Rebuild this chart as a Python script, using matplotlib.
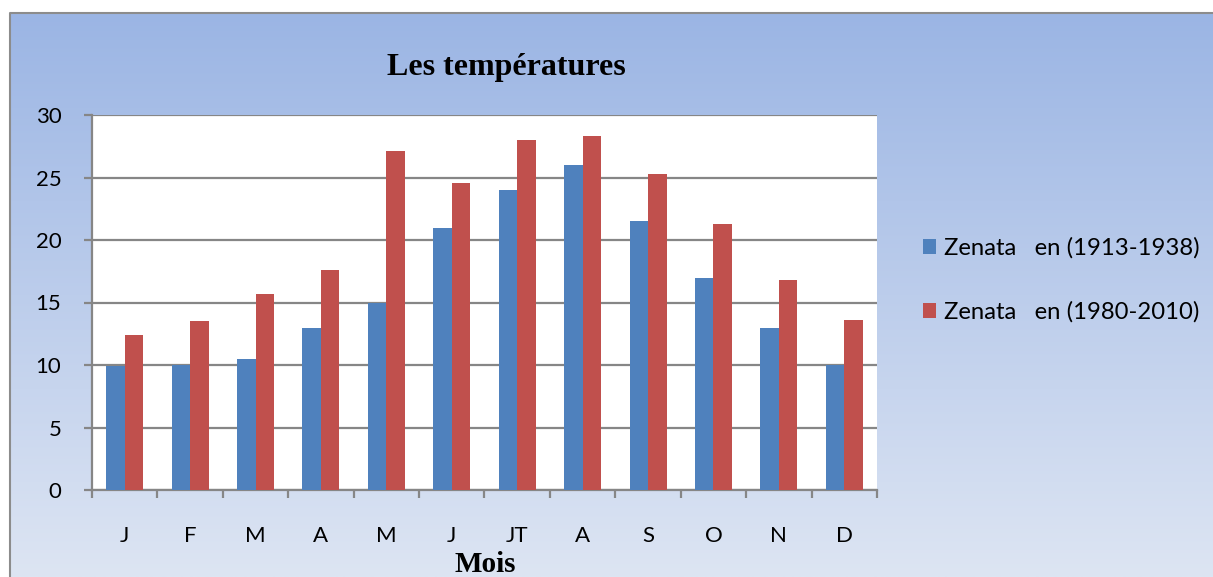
import numpy as np
import matplotlib
matplotlib.use("Agg")
import matplotlib.pyplot as plt
from matplotlib.lines import Line2D

months = ["J", "F", "M", "A", "M", "J", "JT", "A", "S", "O", "N", "D"]
zenata_1913_1938 = [9.9, 10.0, 10.5, 13.0, 15.0, 21.0, 24.0, 26.0, 21.5, 17.0, 13.0, 10.0]
zenata_1980_2010 = [12.4, 13.5, 15.7, 17.6, 27.1, 24.6, 28.0, 28.3, 25.3, 21.3, 16.8, 13.6]
series_labels = ["Zenata   en (1913-1938)", "Zenata   en (1980-2010)"]
yticks = [0, 5, 10, 15, 20, 25, 30]

W, H = 1213, 577
fig = plt.figure(figsize=(W / 100, H / 100), dpi=100)
fig.patch.set_facecolor("white")

# background gradient panel
bg = fig.add_axes([10 / W, 0, 1 - 10 / W, 1 - 13 / H])
bg.set_axis_off()
top = np.array([155, 181, 228]) / 255
bot = np.array([221, 229, 243]) / 255
t = np.linspace(0, 1, 256)[:, None]
grad = top[None, :] * (1 - t) + bot[None, :] * t
grad = np.repeat(grad[:, None, :], 2, axis=1)
bg.imshow(grad, aspect="auto", extent=[0, 1, 0, 1], origin="upper")
bg.set_xlim(0, 1)
bg.set_ylim(0, 1)
bg.add_line(Line2D([0, 0, 1], [0, 1, 1], color="#8c8c8c", lw=1.5,
                   transform=bg.transAxes, clip_on=False))

ax = fig.add_axes([92 / W, 1 - 490 / H, (877 - 92) / W, (490 - 115) / H])
ax.set_facecolor("white")
x = np.arange(len(months))
bw = 0.283
ax.bar(x - bw / 2, zenata_1913_1938, width=bw, color="#4F81BD", label=series_labels[0], zorder=3)
ax.bar(x + bw / 2, zenata_1980_2010, width=bw, color="#C0504D", label=series_labels[1], zorder=3)

ax.set_xlim(-0.5, len(months) - 0.5)
ax.set_ylim(0, 30)
ax.set_yticks(yticks)
ax.yaxis.grid(True, color="#868686", lw=1.6, zorder=1)
for s in ["top", "right"]:
    ax.spines[s].set_visible(False)
for s in ["left", "bottom"]:
    ax.spines[s].set_color("#868686")
    ax.spines[s].set_linewidth(1.6)

tick_font = "Lato"
ax.tick_params(axis="y", direction="out", length=6, width=1.6, color="#868686",
               labelsize=16, pad=16)
for lab in ax.get_yticklabels():
    lab.set_fontfamily(tick_font)
ax.set_xticks(x)
ax.set_xticklabels(months, fontsize=16, fontfamily=tick_font)
ax.tick_params(axis="x", length=0, pad=26)
ax.set_xticks(np.arange(-0.5, len(months), 1), minor=True)
ax.tick_params(axis="x", which="minor", direction="out", length=6, width=1.6, color="#868686")

fig.text(506 / W, 1 - 68 / H, "Les températures", ha="center", va="center",
         fontsize=23, fontweight="bold", fontfamily="Liberation Serif")
fig.text(485 / W, 1 - 564 / H, "Mois", ha="center", va="center",
         fontsize=21, fontweight="bold", fontfamily="Liberation Serif")

leg = fig.legend(loc="center left", bbox_to_anchor=(901 / W, 1 - 280 / H), frameon=False,
                 prop={"family": tick_font, "size": 17.2}, handlelength=0.58, handleheight=0.58,
                 handletextpad=0.3, labelspacing=1.78)

fig.savefig("out.png", dpi=100)
